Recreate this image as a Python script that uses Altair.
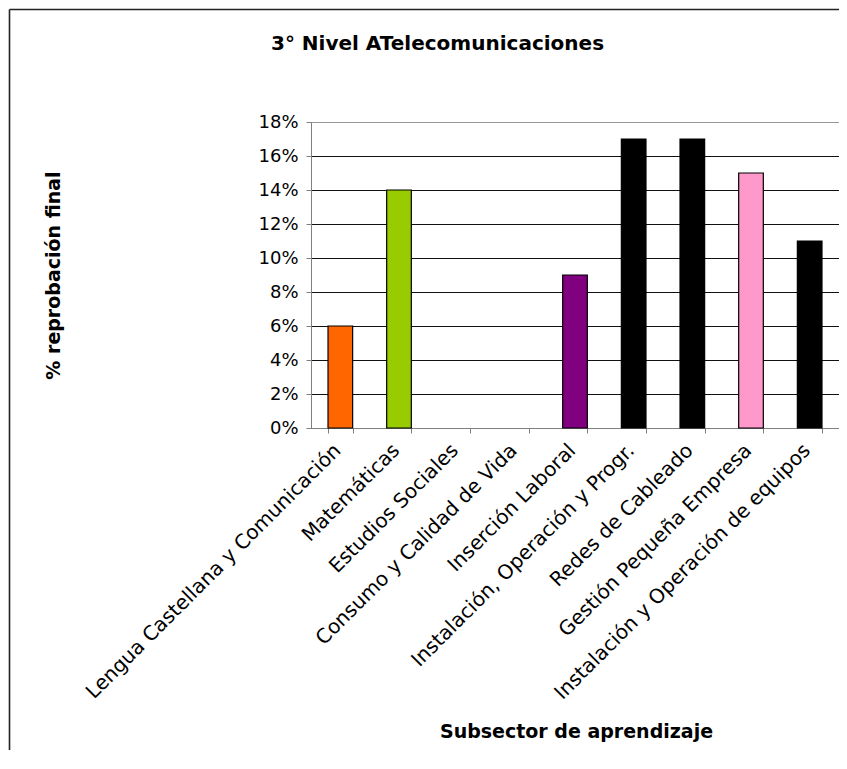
import altair as alt
import pandas as pd

categories = [
    "Lengua Castellana y Comunicación",
    "Matemáticas",
    "Estudios Sociales",
    "Consumo y Calidad de Vida",
    "Inserción Laboral",
    "Instalación, Operación y Progr.",
    "Redes de Cableado",
    "Gestión Pequeña Empresa",
    "Instalación y Operación de equipos",
]
values = [0.06, 0.14, 0.0, 0.0, 0.09, 0.17, 0.17, 0.15, 0.11]
bar_colors = ["#FF6600", "#99CC00", "#FFFFFF", "#FFFFFF", "#800080",
              "#000000", "#000000", "#FF99CC", "#000000"]
y_ticks = [0.0, 0.02, 0.04, 0.06, 0.08, 0.10, 0.12, 0.14, 0.16, 0.18]

df = pd.DataFrame({"subsector": categories, "value": values})

W, H = 528, 306
PAD_L = 303
FONT = "DejaVu Sans"

bars = alt.Chart(df).mark_bar(stroke="black").encode(
    x=alt.X(
        "subsector:N",
        sort=categories,
        scale=alt.Scale(paddingInner=0.58, paddingOuter=0.29),
        title="Subsector de aprendizaje",
        axis=alt.Axis(
            labelAngle=315, labelAlign="right", labelBaseline="middle",
            labelPadding=14, labelOffset=-3, labelFont=FONT, labelFontSize=20,
            labelColor="black", labelLimit=600, labelOverlap=False,
            tickBand="extent", tickSize=5, tickColor="#808080",
            domainColor="#808080", grid=False,
            titleFont=FONT, titleFontSize=19, titleFontWeight="bold",
            titleColor="black", titleX=265, titleY=309.5,
            titleBaseline="alphabetic", titleAlign="center",
        ),
    ),
    y=alt.Y(
        "value:Q",
        scale=alt.Scale(domain=[0, 0.18], nice=False),
        title="% reprobación final",
        axis=alt.Axis(
            values=y_ticks, format=".0%",
            labelFont=FONT, labelFontSize=18, labelColor="black", labelPadding=8,
            tickSize=5, tickColor="#808080", domainColor="#808080",
            grid=True,
            gridColor=alt.condition("datum.value >= 0.179", alt.value("#999999"), alt.value("#111111")),
            gridWidth=1, gridOpacity=1,
            titleFont=FONT, titleFontSize=19, titleFontWeight="bold",
            titleColor="black", titleAngle=270, titleX=-251.5, titleY=153,
            titleBaseline="alphabetic", titleAlign="center",
        ),
    ),
    color=alt.Color("subsector:N", scale=alt.Scale(domain=categories, range=bar_colors), legend=None),
    strokeWidth=alt.condition("datum.value > 0", alt.value(1.2), alt.value(0)),
)

frame_src = alt.Data(values=[{"f": 1}])
frame_left = alt.Chart(frame_src).mark_rule(color="#222222", strokeWidth=1.6).encode(
    x=alt.value(-301.5), y=alt.value(-112.5), y2=alt.value(H + 340)
)
frame_top = alt.Chart(frame_src).mark_rule(color="#222222", strokeWidth=1.6).encode(
    x=alt.value(-301.5), x2=alt.value(W + 10), y=alt.value(-112.5)
)

chart = alt.layer(bars, frame_left, frame_top).properties(
    width=W,
    height=H,
    autosize=alt.AutoSizeParams(type="none"),
    padding={"left": PAD_L, "top": 114, "right": 0, "bottom": 322},
    background="white",
    title=alt.TitleParams(
        text="3° Nivel ATelecomunicaciones", font=FONT, fontSize=20,
        fontWeight="bold", color="black", anchor="middle", frame="group",
        dx=-137.5, dy=61, offset=0, baseline="alphabetic",
    ),
).configure_view(stroke="#999999", strokeWidth=1)

chart.save("out.html", embed_options={"renderer": "svg", "actions": False})
